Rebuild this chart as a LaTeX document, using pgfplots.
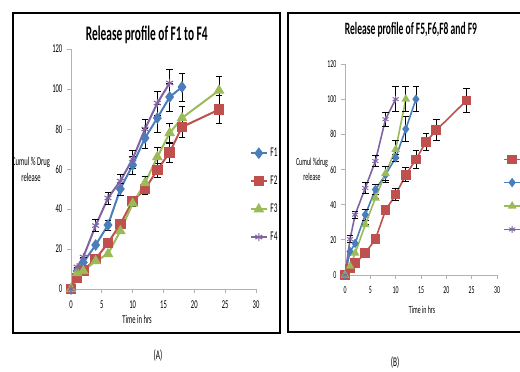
\documentclass[border=0pt]{standalone}
\usepackage{pgfplots}
\usepackage{pgfplotstable}
\pgfplotsset{compat=1.18}
\usepackage{fontspec}
\setmainfont{Carlito}[FakeStretch=0.55]
\definecolor{xblue}{RGB}{74,126,187}
\definecolor{xred}{RGB}{192,80,77}
\definecolor{xgreen}{RGB}{155,187,89}
\definecolor{xpurple}{RGB}{128,100,162}

\pgfplotstableread{
t v e
0 0 0
1 9 0
2 13.3 0
4 22 0
6 32 2.5
8 50 3
10 62 4.5
12 75.5 5
14 85.5 7
16 96 7
18 101 7
}\Fone
\pgfplotstableread{
t v e
0 0 0
1 5.5 0
2 9.3 0
4 15 0
6 23 0
8 32.5 0
10 44 2.5
12 50 2.5
14 59.5 3.5
16 68.3 5
18 81 5
24 89.7 7
}\Ftwo
\pgfplotstableread{
t v e
0 0 0
1 8 0
2 9 0
4 14 0
6 17.5 0
8 29 0
10 42.7 0
12 53 3.5
14 66 5
16 78 5
18 85.5 6
24 99.3 7
}\Fthree
\pgfplotstableread{
t v e
0 0 0
1 11 0
2 16 0
4 31.7 3
6 45.5 3
8 54 3.5
10 65 4.5
12 80 5
14 93 6
16 103 7
}\Ffour
\pgfplotstableread{
t v e
0 0 0
1 3.8 0
2 6.7 0
4 12.4 0
6 20.4 0
8 36.8 0
10 45.7 3.5
12 57 4
14 65.7 5
16 75.8 5
18 82.3 6
24 99.3 7
}\Ffive
\pgfplotstableread{
t v e
0 0 0
1 13.3 0
2 18 0
4 34.3 3
6 48.6 3
8 57 4.5
10 66.7 2
12 83 7
14 100 7
}\Fsix
\pgfplotstableread{
t v e
0 0 0
1 5 0
2 12.4 0
4 28.6 0
6 43.8 0
8 57.7 4
10 71.4 5
12 100 7
}\Feight
\pgfplotstableread{
t v e
0 0 0
1 20.4 2
2 34.3 2
4 49.5 3
6 64.8 3
8 88.6 4
10 100 7
}\Fnine

\pgfplotsset{
  panel/.style={
    scale only axis, xmin=0, xmax=30, ymin=0, ymax=120,
    xtick={0,5,...,30}, ytick={0,20,...,120},
    axis lines=left, axis line style={-, gray!60, line width=0.6pt},
    tick style={gray!60, line width=0.6pt}, tick align=outside, major tick length=3pt,
    /pgf/number format/assume math mode=true,
    error bars/y dir=both, error bars/y explicit,
    error bars/error bar style={black, line width=0.6pt},
    error bars/error mark options={rotate=90, black, mark size=2.5pt, line width=0.6pt},
    legend image code/.code={\draw[mark repeat=2,mark phase=2] plot coordinates {(0pt,0pt) (6pt,0pt) (12pt,0pt)};},
    legend cell align=left,
  },
}

\begin{document}
\begin{tikzpicture}
\path[use as bounding box] (0,0) rectangle (390pt,278.25pt);
\clip (0,0) rectangle (390pt,278.25pt);
\begin{scope}[x=0.75pt,y=0.75pt]
\draw[line width=1.6pt] (13,38) rectangle (280,358);
\draw[line width=1.6pt] (288,39) rectangle (560,358);
\node[font=\fontsize{10}{12}\selectfont] at (158,15) {(A)};
\node[font=\fontsize{10}{12}\selectfont] at (395,8) {(B)};
\end{scope}

\begin{axis}[panel, at={(53.25pt,61.5pt)}, anchor=south west, width=138.75pt, height=180pt,
  tick label style={font=\fontsize{9}{10}\selectfont},
  xticklabel style={yshift=-2pt},
  title={Release profile of F1 to F4},
  title style={font=\fontsize{15.5}{17}\selectfont\bfseries, at={(axis description cs:0.41,1.025)}, anchor=center},
  xlabel={Time in hrs},
  every axis x label/.style={at={(axis description cs:0.357,-0.125)}, anchor=center, font=\fontsize{9}{10}\selectfont},
  ylabel={Cumul \% Drug\\release},
  every axis y label/.style={at={(axis description cs:-0.216,0.5)}, anchor=center, align=center, font=\fontsize{9}{12}\selectfont},
  legend style={at={(axis description cs:0.965,0.6)}, anchor=north west, draw=none, fill=none,
    font=\fontsize{10}{11}\selectfont, row sep=9pt, inner sep=0pt},
]
\addplot[xblue, line width=1.5pt, mark=diamond*, mark size=3.2pt, mark options={solid}] table[x=t,y=v,y error=e]{\Fone};
\addlegendentry{F1}
\addplot[xred, line width=1.5pt, mark=square*, mark size=3.2pt] table[x=t,y=v,y error=e]{\Ftwo};
\addlegendentry{F2}
\addplot[xgreen, line width=1.5pt, mark=triangle*, mark size=3.2pt] table[x=t,y=v,y error=e]{\Fthree};
\addlegendentry{F3}
\addplot[xpurple, line width=1.5pt, mark=asterisk, mark size=3pt, mark options={line width=0.8pt}] table[x=t,y=v,y error=e]{\Ffour};
\addlegendentry{F4}
\end{axis}

\begin{axis}[panel, at={(258.75pt,72pt)}, anchor=south west, width=114pt, height=158.25pt,
  tick label style={font=\fontsize{8}{9}\selectfont},
  xticklabel style={yshift=-2pt},
  title={Release profile of F5,F6,F8 and F9},
  title style={font=\fontsize{13}{15}\selectfont\bfseries, at={(axis description cs:0.434,1.123)}, anchor=center},
  xlabel={Time in hrs},
  every axis x label/.style={at={(axis description cs:0.507,-0.166)}, anchor=center, font=\fontsize{8}{9}\selectfont},
  ylabel={Cumul \%drug\\release},
  every axis y label/.style={at={(axis description cs:-0.217,0.5)}, anchor=center, align=center, font=\fontsize{8}{11}\selectfont},
  legend style={at={(axis description cs:1.04,0.585)}, anchor=north west, draw=none, fill=none,
    font=\fontsize{9}{10}\selectfont, row sep=6pt, inner sep=0pt},
]
\addplot[xred, line width=1.2pt, mark=square*, mark size=3pt] table[x=t,y=v,y error=e]{\Ffive};
\addlegendentry{F5}
\addplot[xblue, line width=1.2pt, mark=diamond*, mark size=2.6pt] table[x=t,y=v,y error=e]{\Fsix};
\addlegendentry{F6}
\addplot[xgreen, line width=1.2pt, mark=triangle*, mark size=2.6pt] table[x=t,y=v,y error=e]{\Feight};
\addlegendentry{F8}
\addplot[xpurple, line width=1.2pt, mark=asterisk, mark size=2.6pt, mark options={line width=0.7pt}] table[x=t,y=v,y error=e]{\Fnine};
\addlegendentry{F9}
\end{axis}
\end{tikzpicture}
\end{document}
